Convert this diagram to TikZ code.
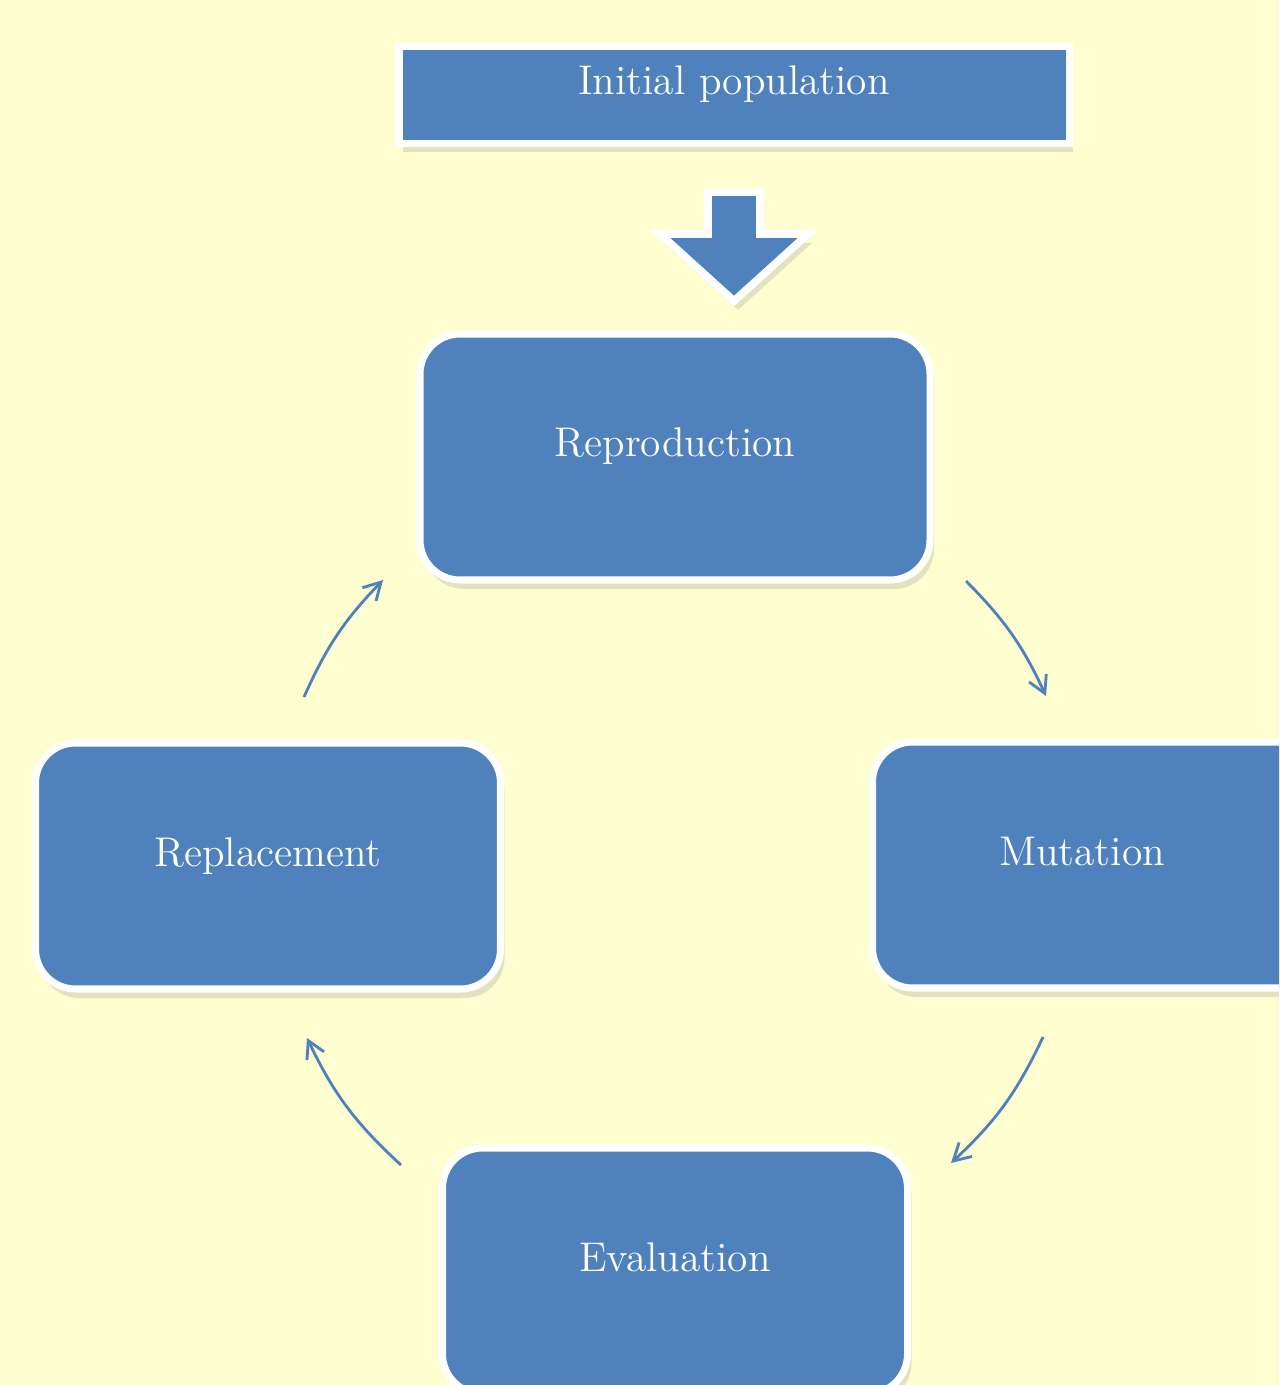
\documentclass[tikz,border=0pt]{standalone}
\usetikzlibrary{arrows.meta,shadows}
\definecolor{bgyellow}{RGB}{255,254,208}
\definecolor{boxblue}{RGB}{79,129,189}

\begin{document}
\begin{tikzpicture}[x=0.1mm,y=-0.1mm,
    boxshadow/.style={drop shadow={shadow xshift=0.4mm,shadow yshift=-0.9mm,opacity=0.22}},
    stage/.style={draw=white,line width=2pt,fill=boxblue,rounded corners=4mm,
      minimum width=4.65cm,minimum height=2.46cm,text=white,
      font=\fontsize{11.8}{14}\selectfont,text height=3mm,text depth=3mm,boxshadow},
    initbox/.style={stage,rounded corners=0pt,minimum width=6.7cm,minimum height=0.97cm},
    cycarrow/.style={draw=boxblue,line width=0.8pt,-{Straight Barb[length=1.7mm,width=1.9mm]}}]
      \useasboundingbox (0,0) rectangle (1279,1385);
      \fill[bgyellow] (0,0) rectangle (1279,1385);
      \clip (0,0) rectangle (1279,1385);
      % boxes
      \node[initbox] (init) at (734,95) {Initial population};
      \node[stage,minimum width=5.1cm] (repro) at (675,457) {Reproduction};
      \node[stage] (mut) at (1105,865) {Mutation\rule{4.6mm}{0pt}};
      \node[stage] (eval) at (675,1271) {Evaluation};
      \node[stage] (repl) at (268,866) {Replacement};
      % big arrow
      \draw[fill=boxblue,draw=white,line width=2.2pt,boxshadow] (708,192) -- (760,192) -- (760,234) -- (808,234)
        -- (734,301) -- (660,234) -- (708,234) -- cycle;
      % cycle arrows
      \coordinate (rm1) at (966,581);  \coordinate (rm2) at (1046,696);
      \coordinate (me1) at (1043,1037); \coordinate (me2) at (951,1163);
      \coordinate (er1) at (401,1165); \coordinate (er2) at (307,1038);
      \coordinate (rr1) at (304,697);  \coordinate (rr2) at (383,580);
      \draw[cycarrow] (rm1) to[bend left=10] (rm2);
      \draw[cycarrow] (me1) to[bend left=11] (me2);
      \draw[cycarrow] (er1) to[bend left=11] (er2);
      \draw[cycarrow] (rr1) to[bend left=10] (rr2);
    \end{tikzpicture}
\end{document}
